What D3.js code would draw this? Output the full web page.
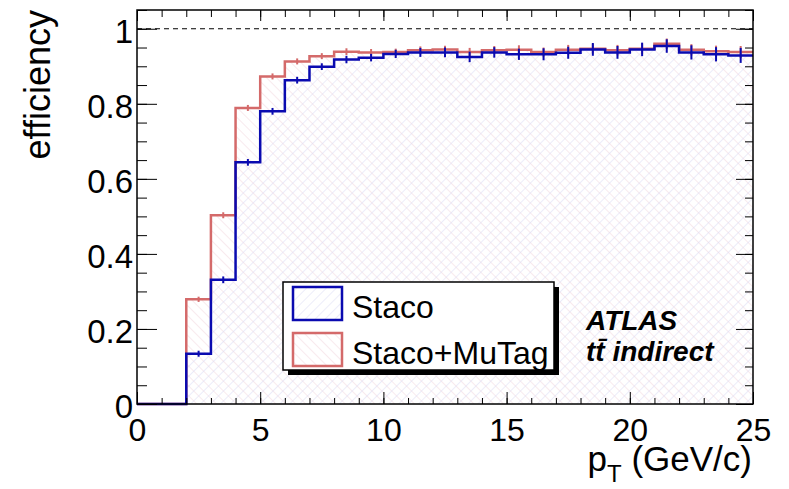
<!DOCTYPE html>
<html>
<head>
<meta charset="utf-8">
<script src="https://cdn.jsdelivr.net/npm/d3@7"></script>
<style>
  body { margin: 0; background: #fff; }
  text { font-family: 'Liberation Sans', Arial, sans-serif; }
</style>
</head>
<body>
<div id="screen"></div>
<script>
// bin edges in pT (GeV/c)
const binEdges = [0, 1, 2, 3, 4, 5, 6, 7, 8, 9, 10, 11, 12, 13, 14, 15, 16, 17, 18, 19, 20, 21, 22, 23, 24, 25]

// efficiency per bin
const staco = [0, 0, 0.134, 0.331, 0.644, 0.780, 0.863, 0.899, 0.918, 0.923, 0.933, 0.937, 0.937,
  0.925, 0.937, 0.932, 0.932, 0.936, 0.945, 0.937, 0.945, 0.954, 0.937, 0.932, 0.929]
const stacoErr = [0, 0, 0.004, 0.005, 0.005, 0.005, 0.005, 0.005, 0.006, 0.006, 0.007, 0.008, 0.009,
  0.010, 0.010, 0.011, 0.012, 0.012, 0.013, 0.013, 0.014, 0.014, 0.015, 0.015, 0.016]

const mutag = [0, 0, 0.279, 0.503, 0.789, 0.873, 0.913, 0.927, 0.939, 0.937, 0.938, 0.943, 0.945,
  0.938, 0.943, 0.944, 0.938, 0.944, 0.947, 0.943, 0.947, 0.960, 0.944, 0.940, 0.938]
const mutagErr = [0, 0, 0.003, 0.004, 0.004, 0.004, 0.004, 0.004, 0.005, 0.005, 0.005, 0.006, 0.006,
  0.007, 0.007, 0.008, 0.008, 0.009, 0.009, 0.010, 0.010, 0.010, 0.011, 0.011, 0.012]

const xTicks = [0, 5, 10, 15, 20, 25]
const yTicks = [0, 0.2, 0.4, 0.6, 0.8, 1]
const yTickLabels = ['0', '0.2', '0.4', '0.6', '0.8', '1']

const seriesNames = ['Staco', 'Staco+MuTag']

function drawChart () {
  const width = 789
  const height = 489
  const margin = { top: 10, right: 36, bottom: 85, left: 137 }
  const blue = '#0a0ab0'
  const red = '#d46a6a'

  const container = d3.select('#screen')
  container.selectAll('*').remove()
  const svg = container.append('svg')
    .attr('width', width)
    .attr('height', height)

  const x = d3.scaleLinear()
    .domain([0, 25])
    .range([margin.left, width - margin.right])

  const y = d3.scaleLinear()
    .domain([0, 1.05])
    .range([height - margin.bottom, margin.top])

  // hachures facon ROOT
  const defs = svg.append('defs')
  const hatch = (id, angle, color) => {
    const p = defs.append('pattern')
      .attr('id', id)
      .attr('patternUnits', 'userSpaceOnUse')
      .attr('width', 7).attr('height', 7)
      .attr('patternTransform', `rotate(${angle})`)
    p.append('line')
      .attr('x1', 0).attr('y1', 0).attr('x2', 0).attr('y2', 7)
      .attr('stroke', color).attr('stroke-width', 1)
  }
  hatch('hatch-red', -45, '#f2d6de')
  hatch('hatch-blue', 45, '#dadaf3')

  const pts = vals => vals.map((v, i) => [binEdges[i], v]).concat([[binEdges[vals.length], vals[vals.length - 1]]])

  const line = d3.line()
    .x(d => x(d[0]))
    .y(d => y(d[1]))
    .curve(d3.curveStepAfter)

  const area = d3.area()
    .x(d => x(d[0]))
    .y0(y(0))
    .y1(d => y(d[1]))
    .curve(d3.curveStepAfter)

  const series = [
    { name: seriesNames[1], vals: mutag, err: mutagErr, color: red, fill: 'url(#hatch-red)' },
    { name: seriesNames[0], vals: staco, err: stacoErr, color: blue, fill: 'url(#hatch-blue)' }
  ]

  series.forEach(s => {
    svg.append('path')
      .attr('d', area(pts(s.vals)))
      .attr('fill', s.fill)
  })

  // ligne pointillee a 1
  svg.append('line')
    .attr('x1', x(0)).attr('x2', x(25))
    .attr('y1', y(1)).attr('y2', y(1))
    .attr('stroke', '#000')
    .attr('stroke-width', 1)
    .attr('stroke-dasharray', '5,4')

  series.forEach(s => {
    svg.append('path')
      .attr('d', line(pts(s.vals)))
      .attr('fill', 'none')
      .attr('stroke', s.color)
      .attr('stroke-width', 2.5)

    // barres d'erreur
    svg.append('g')
      .selectAll('line')
      .data(s.vals.map((v, i) => ({ c: (binEdges[i] + binEdges[i + 1]) / 2, v, e: s.err[i] })).filter(d => d.v > 0))
      .join('line')
      .attr('x1', d => x(d.c)).attr('x2', d => x(d.c))
      .attr('y1', d => y(d.v - d.e) + 1.5).attr('y2', d => y(d.v + d.e) - 1.5)
      .attr('stroke', s.color)
      .attr('stroke-width', 2)
  })

  const tickStyle = g => {
    g.select('.domain').remove()
    g.selectAll('line').attr('stroke', '#000').attr('stroke-width', 1)
  }

  // axe x : majeurs + mineurs, en bas et en haut
  svg.append('g')
    .attr('transform', `translate(0,${y(0)})`)
    .call(d3.axisBottom(x).tickValues(binEdges).tickSize(-6).tickFormat(''))
    .call(tickStyle)
  svg.append('g')
    .attr('transform', `translate(0,${y(0)})`)
    .call(d3.axisBottom(x).tickValues(xTicks).tickSize(-12).tickPadding(14).tickFormat(d3.format('d')))
    .call(tickStyle)
    .selectAll('text')
    .attr('font-size', '32px')
    .attr('fill', '#000')

  svg.append('g')
    .attr('transform', `translate(0,${margin.top})`)
    .call(d3.axisTop(x).tickValues(binEdges).tickSize(-7).tickFormat(''))
    .call(tickStyle)
  svg.append('g')
    .attr('transform', `translate(0,${margin.top})`)
    .call(d3.axisTop(x).tickValues(xTicks).tickSize(-11).tickFormat(''))
    .call(tickStyle)

  // axe y : gauche et droite
  const yMinor = d3.range(0, 1.051, 0.05)
  svg.append('g')
    .attr('transform', `translate(${margin.left},0)`)
    .call(d3.axisLeft(y).tickValues(yMinor).tickSize(-10).tickFormat(''))
    .call(tickStyle)
  svg.append('g')
    .attr('transform', `translate(${margin.left},0)`)
    .call(d3.axisLeft(y).tickValues(yTicks).tickSize(-20).tickPadding(4).tickFormat((d, i) => yTickLabels[i]))
    .call(tickStyle)
    .selectAll('text')
    .attr('font-size', '33px')
    .attr('dy', '0.42em')
    .attr('fill', '#000')

  svg.append('g')
    .attr('transform', `translate(${width - margin.right},0)`)
    .call(d3.axisRight(y).tickValues(yMinor).tickSize(-8).tickFormat(''))
    .call(tickStyle)
  svg.append('g')
    .attr('transform', `translate(${width - margin.right},0)`)
    .call(d3.axisRight(y).tickValues(yTicks).tickSize(-17).tickFormat(''))
    .call(tickStyle)

  // cadre
  svg.append('rect')
    .attr('x', margin.left).attr('y', margin.top)
    .attr('width', width - margin.left - margin.right)
    .attr('height', height - margin.top - margin.bottom)
    .attr('fill', 'none')
    .attr('stroke', '#000')
    .attr('stroke-width', 1.5)

  // titres des axes
  svg.append('text')
    .attr('transform', 'rotate(-90)')
    .attr('x', -margin.top)
    .attr('y', 50)
    .attr('text-anchor', 'end')
    .attr('font-size', '36px')
    .text('efficiency')

  const xt = svg.append('text')
    .attr('x', width - margin.right - 1)
    .attr('y', 471)
    .attr('text-anchor', 'end')
    .attr('font-size', '35px')
  xt.append('tspan').text('p')
  xt.append('tspan').attr('dy', 11).attr('font-size', '24px').text('T')
  xt.append('tspan').attr('dy', -11).text(' (GeV/c)')

  // legende
  const lx = 283
  const ly = 282
  const lw = 271
  const lh = 88
  svg.append('rect')
    .attr('x', lx + 5).attr('y', ly + 5)
    .attr('width', lw).attr('height', lh)
    .attr('fill', '#000')
  svg.append('rect')
    .attr('x', lx).attr('y', ly)
    .attr('width', lw).attr('height', lh)
    .attr('fill', '#fff')
    .attr('stroke', '#000')
    .attr('stroke-width', 1.5)

  const legendItems = [series[1], series[0]]
  legendItems.forEach((s, i) => {
    const ey = ly + 5 + i * 46
    svg.append('rect')
      .attr('x', lx + 10).attr('y', ey)
      .attr('width', 49).attr('height', 33)
      .attr('fill', s.fill)
      .attr('stroke', s.color)
      .attr('stroke-width', 2.5)
    svg.append('text')
      .attr('x', lx + 69)
      .attr('y', ey + 31)
      .attr('font-size', '32px')
      .text(s.name)
  })

  // label ATLAS
  svg.append('text')
    .attr('x', 586).attr('y', 330)
    .attr('font-size', '28px')
    .attr('font-weight', 'bold')
    .attr('font-style', 'italic')
    .text('ATLAS')
  svg.append('text')
    .attr('x', 586).attr('y', 361)
    .attr('font-size', '28px')
    .attr('font-weight', 'bold')
    .attr('font-style', 'italic')
    .text('tt\u0304 indirect')
}

drawChart()
</script>
</body>
</html>
